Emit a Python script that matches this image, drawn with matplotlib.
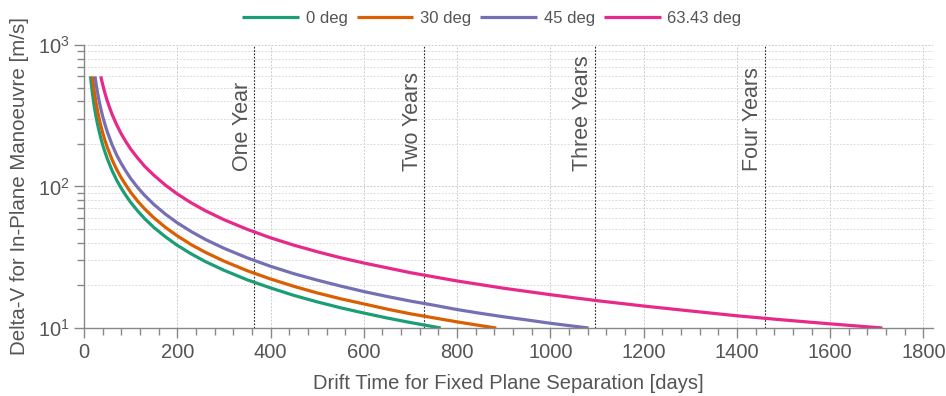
import numpy as np
import matplotlib
matplotlib.use("Agg")
import matplotlib.pyplot as plt
from matplotlib.ticker import MultipleLocator, LogLocator, NullFormatter

plt.rcParams["font.family"] = ["Liberation Sans", "DejaVu Sans"]
plt.rcParams["mathtext.fontset"] = "custom"
plt.rcParams["mathtext.rm"] = "Liberation Sans"

# ------------------------------------------------------------------
# data (drift time [days], delta-v [m/s])
# ------------------------------------------------------------------
t_0 = [14, 15, 16, 18, 20, 22, 25, 28, 32, 36, 40, 45, 50, 60, 70, 80, 90, 100,
       115, 130, 150, 175, 200, 230, 260, 300, 350, 400, 450, 500, 550, 600,
       650, 700, 765]
dv_0 = [600, 556, 518, 456, 408, 368, 322, 286, 249, 220, 197, 175, 157, 130,
        111, 97.0, 86.1, 77.4, 67.2, 59.3, 51.3, 44.0, 38.4, 33.4, 29.5, 25.6,
        21.9, 19.2, 17.0, 15.3, 13.9, 12.76, 11.77, 10.93, 10.0]

t_30 = [18, 19, 20, 22, 25, 28, 32, 36, 40, 45, 50, 60, 70, 80, 90, 100, 115,
        130, 150, 175, 200, 230, 260, 300, 350, 400, 450, 500, 550, 600, 650,
        700, 750, 800, 850, 884]
dv_30 = [599, 561, 527, 471, 406, 357, 307, 269, 240, 211, 189, 155, 132, 115,
         102, 91.1, 78.8, 69.5, 60.0, 51.3, 44.8, 38.8, 34.3, 29.7, 25.4, 22.2,
         19.7, 17.7, 16.1, 14.8, 13.6, 12.6, 11.8, 11.05, 10.4, 10.0]

t_45 = [23.6, 25, 27, 30, 33, 36, 40, 45, 50, 60, 70, 80, 90, 100, 115, 130,
        150, 175, 200, 230, 260, 300, 350, 400, 450, 500, 550, 600, 650, 700,
        750, 800, 850, 900, 950, 1000, 1040, 1082]
dv_45 = [600, 557, 504, 442, 394, 355, 313, 274, 243, 198, 167, 145, 128, 114,
         98.4, 86.6, 74.6, 63.6, 55.4, 48.0, 42.3, 36.6, 31.3, 27.3, 24.2, 21.8,
         19.8, 18.1, 16.7, 15.5, 14.5, 13.5, 12.7, 12.0, 11.4, 10.8, 10.4, 10.0]

t_63 = [36, 38, 40, 43, 46, 50, 55, 60, 70, 80, 90, 100, 115, 130, 150, 175,
        200, 230, 260, 300, 350, 400, 450, 500, 550, 600, 700, 800, 900, 1000,
        1100, 1200, 1300, 1400, 1500, 1600, 1712]
dv_63 = [600, 561, 526, 481, 444, 402, 360, 325, 273, 235, 207, 184, 159, 139,
         120, 102, 88.6, 76.6, 67.5, 58.3, 49.8, 43.4, 38.5, 34.6, 31.4, 28.8,
         24.6, 21.5, 19.1, 17.2, 15.6, 14.3, 13.2, 12.2, 11.4, 10.7, 10.0]

labels = ["0 deg", "30 deg", "45 deg", "63.43 deg"]
colors = ["#1b9e77", "#d95f02", "#7570b3", "#e7298a"]

year_days = [365, 730, 1095, 1460]
year_labels = ["One Year", "Two Years", "Three Years", "Four Years"]

# ------------------------------------------------------------------
TXT = "#555555"
AX = "#888888"

fig = plt.figure(figsize=(9.46, 3.96), dpi=100)
ax = fig.add_axes([0.0888, 0.1717, 0.8972, 0.7147])

series = [(t_0, dv_0), (t_30, dv_30), (t_45, dv_45), (t_63, dv_63)]
for (t, dv), lab, col in zip(series, labels, colors):
    ax.plot(t, dv, color=col, lw=2.3, label=lab, solid_capstyle="butt",
            solid_joinstyle="round")

for d, lab in zip(year_days, year_labels):
    ax.axvline(d, color="#222222", lw=0.8, ls=(0, (1.5, 1.5)), zorder=1)
    ax.text(d - 3, 128, lab, rotation=90, ha="right", va="bottom",
            fontsize=15.5, color=TXT)

ax.set_yscale("log")
ax.set_xlim(0, 1820)
ax.set_ylim(10, 1000)
ax.xaxis.set_major_locator(MultipleLocator(200))
ax.xaxis.set_minor_locator(MultipleLocator(40))
ax.yaxis.set_major_locator(LogLocator(base=10))
ax.yaxis.set_minor_locator(LogLocator(base=10, subs=np.arange(2, 10)))
ax.yaxis.set_minor_formatter(NullFormatter())

ax.grid(which="major", color="#cccccc", lw=0.7, ls=(0, (2, 1.5)))
ax.grid(which="minor", axis="y", color="#dddddd", lw=0.7, ls=(0, (2, 1.5)))
ax.set_axisbelow(True)

for s in ["top", "right"]:
    ax.spines[s].set_visible(False)
for s in ["left", "bottom"]:
    ax.spines[s].set_color(AX)
    ax.spines[s].set_linewidth(1.0)

ax.tick_params(which="major", length=7, width=1, color=AX, labelcolor=TXT, labelsize=14.5)
ax.tick_params(which="minor", length=5, width=1, color=AX)

ax.set_xlabel("Drift Time for Fixed Plane Separation [days]", fontsize=14.5,
              color=TXT, labelpad=9)
ax.set_ylabel("Delta-V for In-Plane Manoeuvre [m/s]", fontsize=14.8,
              color=TXT, labelpad=6)

fig.legend(loc="upper center", bbox_to_anchor=(0.52, 1.01), ncol=4,
           frameon=False, fontsize=12, handlelength=3.4, columnspacing=0.55,
           handletextpad=0.4, labelcolor=TXT)

fig.savefig("out.png", dpi=100)
